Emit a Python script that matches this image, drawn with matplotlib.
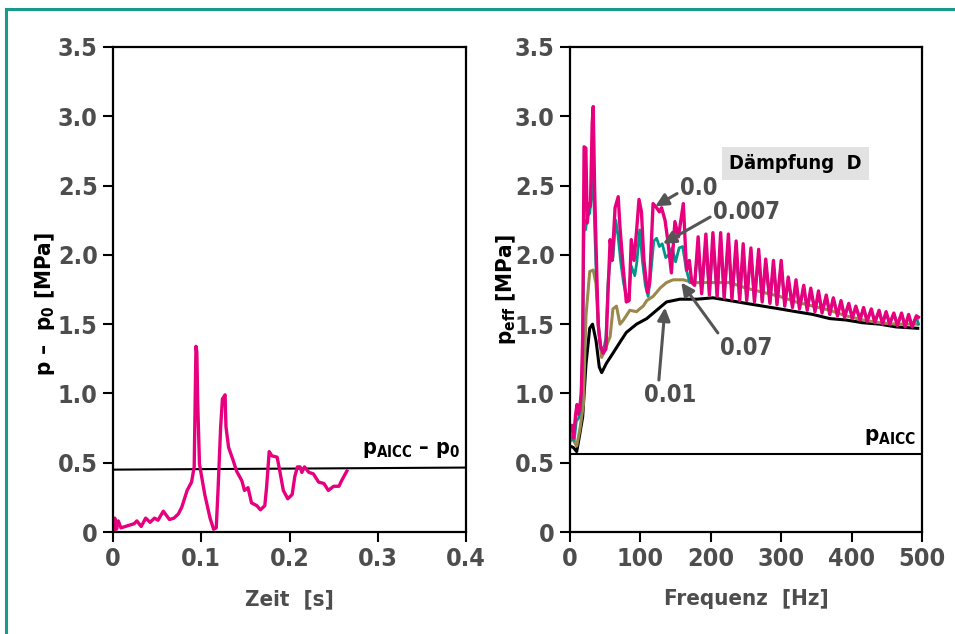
import numpy as np
import matplotlib
matplotlib.use("Agg")
import matplotlib.pyplot as plt
from matplotlib.lines import Line2D

plt.rcParams['font.family'] = ['DejaVu Sans']
plt.rcParams['font.stretch'] = 'condensed'
plt.rcParams['font.weight'] = 'bold'
plt.rcParams['axes.labelweight'] = 'bold'
plt.rcParams['mathtext.fontset'] = 'custom'
plt.rcParams['mathtext.rm'] = 'DejaVu Sans:weight=bold:stretch=condensed'
plt.rcParams['mathtext.it'] = 'DejaVu Sans:weight=bold:stretch=condensed'
plt.rcParams['mathtext.bf'] = 'DejaVu Sans:weight=bold:stretch=condensed'
plt.rcParams['mathtext.default'] = 'rm'

# ---------------- data: left panel (time signal) ----------------
time_s = [0.001, 0.002, 0.004, 0.006, 0.009, 0.014, 0.019, 0.024, 0.027, 0.032, 0.037,
          0.042, 0.047, 0.051, 0.057, 0.064, 0.069, 0.074, 0.078, 0.084, 0.089, 0.092,
          0.094, 0.095, 0.096, 0.098, 0.104, 0.110, 0.114, 0.117, 0.119, 0.122, 0.124,
          0.127, 0.128, 0.131, 0.136, 0.140, 0.146, 0.149, 0.153, 0.157, 0.163, 0.167,
          0.172, 0.174, 0.177, 0.180, 0.186, 0.189, 0.193, 0.198, 0.203, 0.206, 0.209,
          0.212, 0.214, 0.217, 0.222, 0.227, 0.233, 0.239, 0.244, 0.250, 0.256, 0.259,
          0.265]
p_minus_p0 = [0.02, 0.10, 0.02, 0.08, 0.03, 0.04, 0.05, 0.06, 0.08, 0.04, 0.10,
              0.07, 0.10, 0.085, 0.15, 0.09, 0.10, 0.13, 0.18, 0.30, 0.36, 0.47,
              1.34, 1.30, 0.93, 0.49, 0.27, 0.10, 0.02, 0.03, 0.30, 0.76, 0.96,
              0.99, 0.76, 0.61, 0.52, 0.44, 0.37, 0.30, 0.32, 0.21, 0.19, 0.16,
              0.19, 0.32, 0.58, 0.55, 0.54, 0.44, 0.30, 0.24, 0.27, 0.40, 0.47,
              0.47, 0.43, 0.47, 0.43, 0.42, 0.36, 0.35, 0.30, 0.33, 0.33, 0.37,
              0.44]
paicc_minus_p0_t = [0.0, 0.4]
paicc_minus_p0 = [0.45, 0.465]

# ---------------- data: right panel (frequency response) ----------------
# D = 0.0 (magenta)
f_d0_low = [0, 2.5, 5, 8, 10, 12, 14, 16, 18, 20, 22.5, 24.5, 27, 29, 31.5, 33, 35, 38,
            40, 43, 47, 51, 54, 57, 60, 64, 68.5, 71, 75.5, 80, 84, 87, 91, 94.5, 98,
            101.5, 105, 110, 113, 118, 123, 127, 130, 135, 139, 144, 149, 154, 161,
            165.5, 169.5, 173]
p_d0_low = [0.75, 0.77, 0.68, 0.85, 0.92, 0.85, 0.90, 1.00, 1.40, 2.78, 2.77, 2.23,
            2.37, 2.35, 2.95, 3.07, 2.47, 1.87, 1.50, 1.35, 1.29, 1.32, 1.73, 2.11,
            1.96, 2.34, 2.42, 2.20, 1.91, 1.66, 1.67, 2.11, 1.96, 2.17, 2.40, 2.31,
            1.96, 1.73, 1.79, 2.37, 2.34, 2.31, 2.34, 2.25, 2.10, 1.87, 2.24, 2.13,
            2.37, 1.89, 1.96, 1.80]
f_osc = [177, 182, 187, 193, 198, 203, 209, 214, 219, 225, 230, 236, 241, 246, 251,
         257, 262, 268, 273, 278, 284, 289, 294, 300, 305, 310, 316, 321, 326, 332,
         337, 342, 348, 353, 358, 364, 369, 374, 380, 385, 390, 396, 401, 406, 412,
         417, 422, 428, 433, 439, 444, 449, 454, 460, 465, 471, 476, 481, 486, 492, 495]
p_d0_osc = [1.78, 2.13, 1.72, 2.15, 1.71, 2.16, 1.70, 2.16, 1.69, 2.15, 1.68, 2.10,
            1.67, 2.08, 1.67, 2.05, 1.66, 2.04, 1.66, 1.97, 1.65, 1.96, 1.64, 1.96,
            1.63, 1.84, 1.62, 1.82, 1.61, 1.78, 1.60, 1.76, 1.59, 1.74, 1.58, 1.71,
            1.57, 1.69, 1.56, 1.67, 1.55, 1.65, 1.54, 1.63, 1.53, 1.62, 1.52, 1.61,
            1.51, 1.60, 1.50, 1.59, 1.50, 1.58, 1.49, 1.58, 1.48, 1.57, 1.48, 1.56, 1.55]

# D = 0.007 (teal)
f_d007_low = [0, 3, 6, 9, 12, 15, 18, 20, 22, 25, 28, 31, 33, 35, 38, 41, 44, 47, 51,
              54, 57, 61, 65, 68, 72, 76, 80, 84, 87, 92, 95, 99, 103, 107, 111, 115,
              119, 123, 127, 131, 136, 140, 145, 150, 155, 160, 165, 170]
p_d007_low = [0.65, 0.68, 0.66, 0.80, 0.82, 0.88, 1.30, 2.25, 2.18, 2.28, 2.30, 2.45,
              2.58, 2.20, 1.75, 1.45, 1.32, 1.30, 1.40, 1.80, 1.95, 1.98, 2.25, 2.15,
              1.95, 1.80, 1.70, 1.72, 1.92, 1.85, 1.95, 2.18, 1.95, 1.78, 1.70, 1.88,
              2.10, 2.12, 2.06, 2.08, 1.98, 2.00, 2.05, 1.95, 2.05, 2.06, 1.90, 1.80]
p_d007_osc = [1.80, 2.06, 1.73, 2.09, 1.72, 2.10, 1.71, 2.11, 1.70, 2.10, 1.69, 2.05,
              1.68, 2.03, 1.68, 2.01, 1.67, 2.00, 1.67, 1.94, 1.66, 1.93, 1.65, 1.93,
              1.64, 1.82, 1.63, 1.80, 1.62, 1.76, 1.61, 1.74, 1.60, 1.72, 1.59, 1.70,
              1.58, 1.68, 1.57, 1.66, 1.56, 1.64, 1.55, 1.62, 1.54, 1.61, 1.53, 1.60,
              1.52, 1.59, 1.51, 1.58, 1.51, 1.57, 1.50, 1.57, 1.49, 1.56, 1.49, 1.55, 1.50]

# D = 0.07 (olive)
f_d07 = [0, 5, 9.5, 14, 19, 22.7, 28, 33, 37, 40, 45, 50, 57, 61, 66, 71, 76, 85, 94.5,
         99, 104, 109, 118, 128, 137, 146.5, 161, 175, 203, 227, 250, 274, 298, 321,
         345, 369, 392, 416, 440, 463, 494]
p_d07 = [0.70, 0.66, 0.62, 0.74, 0.92, 1.56, 1.88, 1.89, 1.79, 1.50, 1.26, 1.32, 1.41,
         1.61, 1.63, 1.50, 1.53, 1.60, 1.59, 1.61, 1.63, 1.67, 1.70, 1.76, 1.80, 1.82,
         1.82, 1.80, 1.80, 1.80, 1.76, 1.73, 1.70, 1.66, 1.63, 1.60, 1.56, 1.53, 1.51,
         1.50, 1.50]

# D = 0.01 (black)
f_d01 = [0, 4.7, 9.5, 13, 18, 22.7, 28, 32, 37, 41.6, 45, 52, 61, 71, 80, 94.5, 109,
         123, 137, 156, 180, 203, 227, 250, 274, 298, 321, 345, 369, 392, 416, 440,
         463, 494]
p_d01 = [0.62, 0.61, 0.58, 0.68, 0.83, 1.21, 1.47, 1.50, 1.38, 1.19, 1.15, 1.22, 1.29,
         1.37, 1.44, 1.50, 1.54, 1.60, 1.66, 1.68, 1.68, 1.69, 1.67, 1.65, 1.63, 1.61,
         1.59, 1.57, 1.54, 1.53, 1.51, 1.50, 1.48, 1.47]

paicc_f = [0, 500]
paicc = [0.565, 0.565]

y_ticks = [0, 0.5, 1.0, 1.5, 2.0, 2.5, 3.0, 3.5]
y_ticklabels = ['0', '0.5', '1.0', '1.5', '2.0', '2.5', '3.0', '3.5']
t_ticks = [0, 0.1, 0.2, 0.3, 0.4]
t_ticklabels = ['0', '0.1', '0.2', '0.3', '0.4']
f_ticks = [0, 100, 200, 300, 400, 500]
f_ticklabels = ['0', '100', '200', '300', '400', '500']

# ---------------- figure ----------------
PINK = '#e6007e'
TEAL = '#00968a'
OLIVE = '#9a884c'
GRAY = '#4d4d4d'
ARROW = '#555555'

fig = plt.figure(figsize=(9.55, 6.34), dpi=100)
fig.patch.set_facecolor('white')

# teal frame (left and top visible)
fig.add_artist(Line2D([5.5/955, 5.5/955], [0, 1 - 9/634], transform=fig.transFigure,
                      color='#17998b', lw=2.2))
fig.add_artist(Line2D([5.5/955, 1.0], [1 - 9/634, 1 - 9/634], transform=fig.transFigure,
                      color='#17998b', lw=2.2))

axL = fig.add_axes([113/955, 1 - 532/634, (466 - 113)/955, (532 - 47)/634])
axR = fig.add_axes([570/955, 1 - 532/634, (922 - 570)/955, (532 - 47)/634])

TICK_FS = 18
for ax in (axL, axR):
    ax.set_ylim(0, 3.5)
    ax.set_yticks(y_ticks)
    ax.set_yticklabels(y_ticklabels)
    for s in ax.spines.values():
        s.set_linewidth(1.6)
        s.set_color('black')
    ax.tick_params(direction='out', length=7, width=1.5, colors='black',
                   labelcolor=GRAY, labelsize=TICK_FS, pad=4)

# left panel
axL.set_xlim(0, 0.4)
axL.set_xticks(t_ticks)
axL.set_xticklabels(t_ticklabels)
axL.plot(paicc_minus_p0_t, paicc_minus_p0, color='black', lw=1.5)
axL.plot(time_s, p_minus_p0, color=PINK, lw=2.4, solid_joinstyle='round')
axL.text(0.282, 0.565, r'p$_{\mathregular{AICC}}$ – p$_{\mathregular{0}}$', fontsize=15.5,
         color='black', ha='left', va='baseline')
axL.set_xlabel('Zeit  [s]', fontsize=16, color=GRAY, fontweight='bold')
axL.xaxis.set_label_coords(0.5, -0.118)
axL.set_ylabel(r'p –  p$_{\mathregular{0}}$ [MPa]', fontsize=16, color='black',
               fontweight='bold')
axL.yaxis.set_label_coords(-0.16, 0.47)

# right panel
axR.set_xlim(0, 500)
axR.set_xticks(f_ticks)
axR.set_xticklabels(f_ticklabels)
axR.plot(paicc_f, paicc, color='black', lw=1.5)
axR.plot(f_d01, p_d01, color='black', lw=2.2)
axR.plot(f_d07, p_d07, color=OLIVE, lw=2.2)
axR.plot(np.concatenate([f_d007_low, f_osc]), np.concatenate([p_d007_low, p_d007_osc]),
         color=TEAL, lw=2.0)
axR.plot(np.concatenate([f_d0_low, f_osc]), np.concatenate([p_d0_low, p_d0_osc]),
         color=PINK, lw=2.4, solid_joinstyle='round')

axR.text(492, 0.66, r'p$_{\mathregular{AICC}}$', fontsize=16, color='black',
         ha='right', va='baseline')
axR.text(320, 2.66, 'Dämpfung  D', fontsize=14.5, color='black',
         ha='center', va='center',
         bbox=dict(boxstyle='square,pad=0.35', facecolor='#e2e2e2', edgecolor='none'))

arrowprops = dict(arrowstyle='-|>,head_length=0.45,head_width=0.22', color=ARROW, lw=2.2,
                  shrinkA=0, shrinkB=0)
axR.annotate('0.0', xy=(121, 2.35), xytext=(156, 2.48), fontsize=17, color=GRAY,
             ha='left', va='center', arrowprops=dict(arrowprops, relpos=(0.0, 0.35)))
axR.annotate('0.007', xy=(132, 2.08), xytext=(203, 2.31), fontsize=17, color=GRAY,
             ha='left', va='center', arrowprops=dict(arrowprops, relpos=(0.0, 0.35)))
axR.annotate('0.07', xy=(158, 1.80), xytext=(250, 1.33), fontsize=17, color=GRAY,
             ha='center', va='center',
             arrowprops=dict(arrowprops, relpos=(0.0, 1.0)))
axR.annotate('0.01', xy=(135, 1.62), xytext=(143, 0.99), fontsize=17, color=GRAY,
             ha='center', va='center',
             arrowprops=dict(arrowprops, relpos=(0.27, 1.0)))
axR.set_xlabel('Frequenz  [Hz]', fontsize=16, color=GRAY, fontweight='bold')
axR.xaxis.set_label_coords(0.5, -0.118)
axR.set_ylabel(r'p$_{\mathregular{eff}}$ [MPa]', fontsize=16, color='black',
               fontweight='bold')
axR.yaxis.set_label_coords(-0.148, 0.5)

fig.savefig('out.png', dpi=100, facecolor='white')
